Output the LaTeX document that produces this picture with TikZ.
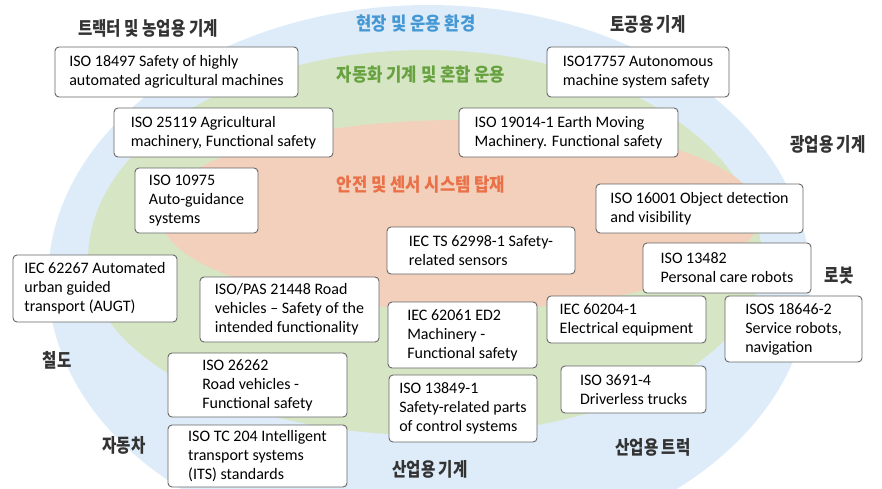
\documentclass[tikz,border=0pt]{standalone}
\usepackage{fontspec}
\setmainfont{Carlito}
\newfontfamily\kofont{Noto Sans CJK KR}[FakeStretch=0.82]
\newfontfamily\kotitle{Noto Sans CJK KR}[FakeStretch=0.9]
\definecolor{fieldblue}{RGB}{221,236,248}
\definecolor{autogreen}{RGB}{214,230,196}
\definecolor{sensorange}{RGB}{243,208,187}
\definecolor{fieldtext}{RGB}{70,152,212}
\definecolor{autotext}{RGB}{104,162,64}
\definecolor{sensortext}{RGB}{234,112,72}
\tikzstyle{stdbox}=[rectangle,rounded corners=4pt,draw=black!60,line width=0.9pt,fill=white,align=left,inner sep=0pt,font=\fontsize{16}{19}\selectfont]
\tikzstyle{sector}=[font=\kofont\bfseries\fontsize{19}{21}\selectfont,text=black!80,inner sep=0pt]
\tikzstyle{ring}=[font=\kotitle\bfseries\fontsize{18.5}{20}\selectfont,inner sep=0pt]
\tikzset{boxsize/.style 2 args={minimum width=#1,minimum height=#2}}

\begin{document}
\begin{tikzpicture}[x=1pt,y=-1pt]
\useasboundingbox (0,0) rectangle (882,488);

\begin{scope}
\clip (0,0) rectangle (882,488);
\fill[fieldblue] (429,280) ellipse [x radius=381pt,y radius=275pt];
\fill[autogreen] (88,260) arc [start angle=180,end angle=0,x radius=337pt,y radius=210pt]
	arc [start angle=0,end angle=-180,x radius=337pt,y radius=175pt] -- cycle;
\fill[sensorange] (460,215) ellipse [x radius=300pt,y radius=95pt];
\end{scope}

\node[ring,text=fieldtext] (field) at (416,24) {현장 및 운용 환경};
\node[ring,text=autotext] (automation) at (421,75) {자동화 기계 및 혼합 운용};
\node[ring,text=sensortext] (sensor) at (421,185) {안전 및 센서 시스템 탑재};

\foreach \pos/\nm/\txt in {(148,28)/tractor/트랙터 및 농업용 기계,(648,24)/earthwork/토공용 기계,
	(828,144)/mining/광업용 기계,(839,276)/robot/로봇,(57,360)/rail/철도,(124,445)/car/자동차,
	(430,469)/indmachine/산업용 기계,(653,447)/indtruck/산업용 트럭}{
	\node[sector] (\nm) at \pos {\txt};}

\node[stdbox,boxsize={243}{50}] (iso18497) at (176.5,72) {ISO 18497 Safety of highly\\automated agricultural machines};
\node[stdbox,boxsize={219}{49}] (iso25119) at (223.5,132.5) {ISO 25119 Agricultural\\machinery, Functional safety};
\node[stdbox,boxsize={123}{65}] (iso10975) at (196.5,200.5) {ISO 10975\\Auto-guidance\\systems};
\node[stdbox,boxsize={182}{50}] (iso17757) at (638,72) {ISO17757 Autonomous\\machine system safety};
\node[stdbox,boxsize={219}{49}] (iso19014) at (568.5,132.5) {ISO 19014-1 Earth Moving\\Machinery. Functional safety};
\node[stdbox,boxsize={207}{49}] (iso16001) at (699.5,208.5) {ISO 16001 Object detection\\and visibility};
\node[stdbox,boxsize={188}{47}] (iec62998) at (481,250.5) {IEC TS 62998-1 Safety-\\related sensors};
\node[stdbox,boxsize={168}{50}] (iso13482) at (727,268) {ISO 13482\\Personal care robots};
\node[stdbox,boxsize={164}{67}] (iec62267) at (95,288.5) {IEC 62267 Automated\\urban guided\\transport (AUGT)};
\node[stdbox,boxsize={179}{65}] (iso21448) at (289.5,309.5) {ISO/PAS 21448 Road\\vehicles -- Safety of the\\intended functionality};
\node[stdbox,boxsize={149}{66}] (iec62061) at (462.5,335) {IEC 62061 ED2\\Machinery -\\Functional safety};
\node[stdbox,boxsize={159}{47}] (iec60204) at (626.5,319.5) {IEC 60204-1\\Electrical equipment};
\node[stdbox,boxsize={137}{66}] (iso18646) at (793.5,329) {ISOS 18646-2\\Service robots,\\navigation};
\node[stdbox,boxsize={179}{64}] (iso26262) at (257.5,385) {ISO 26262\\Road vehicles -\\Functional safety};
\node[stdbox,boxsize={179}{62}] (isotc204) at (257.5,456) {ISO TC 204 Intelligent\\transport systems\\(ITS) standards};
\node[stdbox,boxsize={148}{67}] (iso13849) at (463,408.5) {ISO 13849-1\\Safety-related parts\\of control systems};
\node[stdbox,boxsize={145}{47}] (iso3691) at (633.5,389.5) {ISO 3691-4\\Driverless trucks};
\end{tikzpicture}
\end{document}
